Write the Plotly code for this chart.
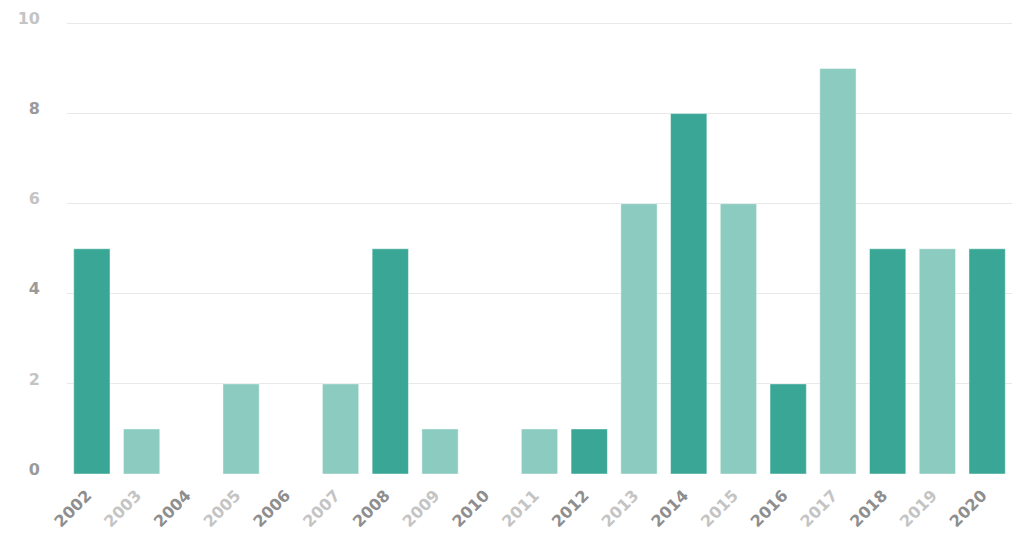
import plotly.graph_objects as go

years = [str(y) for y in range(2002, 2021)]
counts = [5, 1, 0, 2, 0, 2, 5, 1, 0, 1, 1, 6, 8, 6, 2, 9, 5, 5, 5]
y_ticks = [0, 2, 4, 6, 8, 10]

DARK_BAR = "#3aa796"
LIGHT_BAR = "#8ccbc0"
DARK_TXT = "#8e8e8e"
LIGHT_TXT = "#c4c4c4"

bar_colors = [DARK_BAR if int(y) % 2 == 0 else LIGHT_BAR for y in years]
tick_text = [
    f"<span style='color:{DARK_TXT if int(y) % 2 == 0 else LIGHT_TXT}'><b>{y}</b></span>"
    for y in years
]
y_tick_text = [
    f"<span style='color:{'#9a9a9a' if i % 2 == 0 else LIGHT_TXT}'><b>{v}</b></span>"
    for i, v in enumerate(y_ticks)
]

fig = go.Figure(
    go.Bar(
        x=years,
        y=counts,
        marker=dict(color=bar_colors, line=dict(color="rgba(255,255,255,0.45)", width=1)),
        hoverinfo="x+y",
    )
)

fig.update_layout(
    width=1024,
    height=540,
    margin=dict(l=67, r=12, t=19, b=66),
    paper_bgcolor="white",
    plot_bgcolor="white",
    bargap=0.27,
    showlegend=False,
    font=dict(family="DejaVu Sans", size=16, color="#999999"),
)

fig.update_xaxes(
    type="category",
    tickmode="array",
    tickvals=years,
    ticktext=tick_text,
    tickangle=-45,
    tickfont=dict(family="DejaVu Sans", size=16),
    showgrid=False,
    showline=False,
    ticks="",
    ticklabelstandoff=8,
    ticklabelshift=-5,
    automargin=False,
)

fig.update_yaxes(
    range=[0, 10.1],
    tickmode="array",
    tickvals=y_ticks,
    ticktext=y_tick_text,
    tickfont=dict(family="DejaVu Sans", size=16),
    showgrid=True,
    gridcolor="#e8e8e8",
    gridwidth=1,
    zeroline=False,
    ticks="",
    ticklabelstandoff=26,
    ticklabelshift=-5,
    automargin=False,
)

fig.write_html("out.html")
